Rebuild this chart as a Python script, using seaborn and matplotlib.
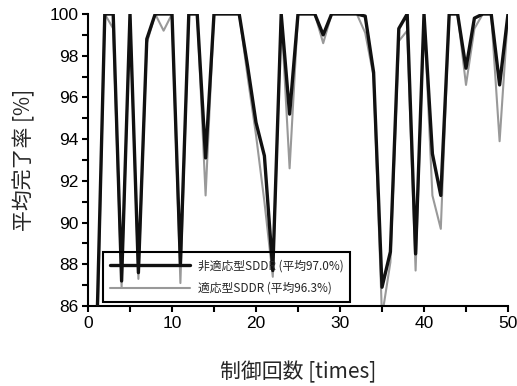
import numpy as np
import pandas as pd
import matplotlib
matplotlib.use("Agg")
import matplotlib.pyplot as plt
import seaborn as sns
from matplotlib.ticker import MultipleLocator

trials = list(range(1, 51))
non_adaptive = [84.0, 100, 100, 87.2, 100, 87.6, 98.8, 100, 100, 100,
                88.0, 100, 100, 93.1, 100, 100, 100, 100, 97.5, 94.8,
                93.2, 87.7, 100, 95.2, 100, 100, 100, 99.0, 100, 100,
                100, 100, 99.9, 97.2, 86.9, 88.6, 99.3, 100, 88.5, 100,
                93.3, 91.3, 100, 100, 97.4, 99.8, 100, 100, 96.6, 100]
adaptive = [83.0, 100, 99.3, 86.9, 100, 87.3, 98.6, 100, 99.2, 100,
            87.1, 100, 100, 91.3, 100, 100, 100, 100, 97.0, 94.2,
            91.0, 87.4, 100, 92.6, 100, 100, 100, 98.6, 100, 100,
            100, 100, 99.1, 97.0, 85.5, 88.1, 98.7, 99.2, 87.7, 100,
            91.3, 89.7, 100, 100, 96.6, 99.3, 100, 100, 93.9, 100]
labels = ["非適応型SDDR (平均97.0%)", "適応型SDDR (平均96.3%)"]
x_label = "制御回数 [times]"
y_label = "平均完了率 [%]"

df = pd.DataFrame({
    "t": trials * 2,
    "v": non_adaptive + adaptive,
    "s": [labels[0]] * len(trials) + [labels[1]] * len(trials),
})

sns.set_theme(style="white")
plt.rcParams['font.family'] = ['Liberation Sans', 'Noto Sans CJK JP', 'DejaVu Sans']

fig = plt.figure(figsize=(5.17, 3.86), dpi=100)
ax = fig.add_axes([88/517, 1-306/386, 420/517, 292/386])

sns.lineplot(data=df, x="t", y="v", hue="s", hue_order=labels,
             palette={labels[0]: "#111111", labels[1]: "#999999"},
             ax=ax, legend=True)
lines = ax.get_lines()
lines[0].set_linewidth(2.4)
lines[0].set_zorder(3)
lines[1].set_linewidth(1.5)
lines[1].set_zorder(2)

ax.set_xlim(0, 50)
ax.set_ylim(86, 100)
ax.xaxis.set_major_locator(MultipleLocator(10))
ax.xaxis.set_minor_locator(MultipleLocator(5))
ax.yaxis.set_major_locator(MultipleLocator(2))
ax.yaxis.set_minor_locator(MultipleLocator(1))
ax.tick_params(axis='both', which='both', direction='out', length=4, width=1.5,
               colors='black', labelsize=12.5, bottom=True, left=True)
ax.tick_params(axis='both', which='major', pad=3)
for s in ['top', 'right']:
    ax.spines[s].set_visible(False)
for s in ['left', 'bottom']:
    ax.spines[s].set_color('black')
    ax.spines[s].set_linewidth(1.5)

ax.set_xlabel(x_label, fontsize=15, family=['Noto Sans CJK JP', 'DejaVu Sans'], labelpad=22)
ax.set_ylabel(y_label, fontsize=15, family=['Noto Sans CJK JP', 'DejaVu Sans'], labelpad=10)

h, l = ax.get_legend_handles_labels()
for hh, w in zip(h, [2.4, 1.5]):
    hh.set_linewidth(w)
leg = ax.legend(h, l, loc='lower left', bbox_to_anchor=(0.036, 0.014),
                borderaxespad=0, frameon=True, fancybox=False,
                handlelength=6.8, handletextpad=0.6,
                prop={'family': ['Noto Sans CJK JP', 'DejaVu Sans'], 'size': 8.5},
                borderpad=0.6, labelspacing=0.8)
fr = leg.get_frame()
fr.set_facecolor('none')
fr.set_edgecolor('black')
fr.set_alpha(None)
fr.set_linewidth(1.5)

fig.savefig("out.png", dpi=100)
